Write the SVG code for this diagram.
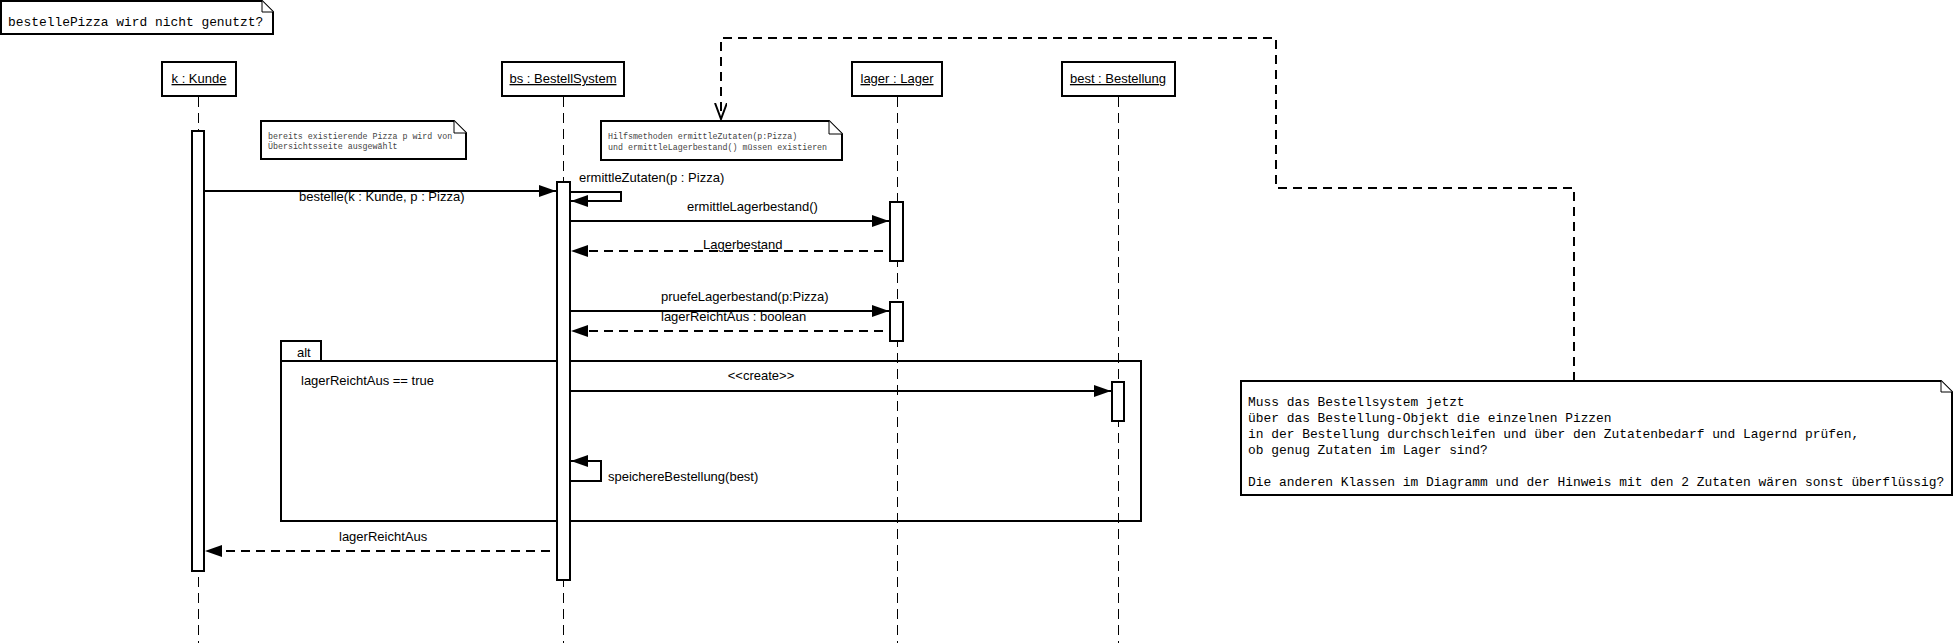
<svg xmlns="http://www.w3.org/2000/svg" width="1954" height="643" viewBox="0 0 1954 643">
<style>
  .box{fill:#fff;stroke:#000;stroke-width:2}
  .life{stroke:#000;stroke-width:1;stroke-dasharray:10 6;fill:none}
  .act{fill:#fff;stroke:#000;stroke-width:2}
  .msg{stroke:#000;stroke-width:2;fill:none}
  .ret{stroke:#000;stroke-width:2;fill:none;stroke-dasharray:9 6}
  .lbl{font-family:"Liberation Sans",Arial,sans-serif;font-size:13px;fill:#000}
  .obj{font-family:"Liberation Sans",Arial,sans-serif;font-size:13px;fill:#000;text-anchor:middle;text-decoration:underline}
  .note{fill:#fff;stroke:#000;stroke-width:2}
  .fold{fill:#fff;stroke:#000;stroke-width:1}
  .mono{font-family:"Liberation Mono","Courier New",monospace;font-size:12.9px;fill:#000}
  .small{font-family:"Liberation Mono","Courier New",monospace;font-size:8.3px;fill:#444}
  .frame{fill:none;stroke:#000;stroke-width:2}
</style>
<defs>
  <marker id="filled" markerUnits="userSpaceOnUse" markerWidth="18" markerHeight="14" refX="17" refY="6" orient="auto">
    <path d="M0,0 L17,6 L0,12 z" fill="#000"/>
  </marker>
  <marker id="open" markerUnits="userSpaceOnUse" markerWidth="18" markerHeight="14" refX="16" refY="6" orient="auto">
    <path d="M0,0 L16,6 L0,12" fill="none" stroke="#000" stroke-width="2"/>
  </marker>
</defs>
<rect width="1954" height="643" fill="#fff"/>

<!-- lifelines -->
<g id="lifelines">
  <line class="life" x1="198.5" y1="97" x2="198.5" y2="643"/>
  <line class="life" x1="563.5" y1="97" x2="563.5" y2="643"/>
  <line class="life" x1="897.5" y1="97" x2="897.5" y2="643"/>
  <line class="life" x1="1118.5" y1="97" x2="1118.5" y2="643"/>
</g>

<!-- alt fragment -->
<g id="alt">
  <rect class="frame" x="281" y="361" width="860" height="160"/>
  <rect class="frame" x="281" y="341" width="40" height="20"/>
  <text class="lbl" x="297" y="357">alt</text>
  <text class="lbl" x="301" y="385">lagerReichtAus == true</text>
</g>

<!-- notes -->
<g id="note-top">
  <path class="note" d="M1,1 H262 L273,12 V34 H1 Z"/>
  <path class="fold" d="M262,1 V12 H273"/>
  <text class="mono" x="8" y="26">bestellePizza wird nicht genutzt?</text>
</g>
<g id="note1">
  <path class="note" d="M261,121 H454 L466,133 V159 H261 Z"/>
  <path class="fold" d="M454,121 V133 H466"/>
  <text class="small" x="268" y="139">bereits existierende Pizza p wird von</text>
  <text class="small" x="268" y="149">Übersichtsseite ausgewählt</text>
</g>
<g id="note2">
  <path class="note" d="M601,121 H829 L842,134 V160 H601 Z"/>
  <path class="fold" d="M829,121 V134 H842"/>
  <text class="small" x="608" y="139">Hilfsmethoden ermittleZutaten(p:Pizza)</text>
  <text class="small" x="608" y="150">und ermittleLagerbestand() müssen existieren</text>
</g>
<g id="note3">
  <path class="note" d="M1241,381 H1941 L1952,392 V495 H1241 Z"/>
  <path class="fold" d="M1941,381 V392 H1952"/>
  <text class="mono" x="1248" y="406">Muss das Bestellsystem jetzt</text>
  <text class="mono" x="1248" y="422">über das Bestellung-Objekt die einzelnen Pizzen</text>
  <text class="mono" x="1248" y="438">in der Bestellung durchschleifen und über den Zutatenbedarf und Lagernd prüfen,</text>
  <text class="mono" x="1248" y="454">ob genug Zutaten im Lager sind?</text>
  <text class="mono" x="1248" y="486">Die anderen Klassen im Diagramm und der Hinweis mit den 2 Zutaten wären sonst überflüssig?</text>
</g>

<!-- objects -->
<g id="kunde">
  <rect class="box" x="162" y="62" width="74" height="34"/>
  <text class="obj" x="199" y="83">k : Kunde</text>
  <rect class="act" x="192" y="131" width="12" height="440"/>
</g>
<g id="bestellsystem">
  <rect class="box" x="502" y="62" width="122" height="34"/>
  <text class="obj" x="563" y="83">bs : BestellSystem</text>
  <rect class="act" x="557" y="182" width="13" height="398"/>
</g>
<g id="lager">
  <rect class="box" x="852" y="62" width="90" height="34"/>
  <text class="obj" x="897" y="83">lager : Lager</text>
  <rect class="act" x="890" y="202" width="13" height="59"/>
  <rect class="act" x="890" y="302" width="13" height="39"/>
</g>
<g id="bestellung">
  <rect class="box" x="1062" y="62" width="113" height="34"/>
  <text class="obj" x="1118" y="83">best : Bestellung</text>
  <rect class="act" x="1112" y="382" width="12" height="39"/>
</g>

<!-- connectors -->
<g id="connectors">
  <line class="msg" x1="205" y1="191" x2="556" y2="191" marker-end="url(#filled)"/>
  <text class="lbl" x="299" y="201">bestelle(k : Kunde, p : Pizza)</text>

  <path class="msg" d="M571,192 H621 V201 H571" marker-end="url(#filled)"/>
  <text class="lbl" x="579" y="182">ermittleZutaten(p : Pizza)</text>

  <line class="msg" x1="571" y1="221" x2="889" y2="221" marker-end="url(#filled)"/>
  <text class="lbl" x="687" y="211">ermittleLagerbestand()</text>

  <line class="ret" x1="883" y1="251" x2="571" y2="251" marker-end="url(#filled)"/>
  <text class="lbl" x="703" y="249">Lagerbestand</text>

  <line class="msg" x1="571" y1="311" x2="889" y2="311" marker-end="url(#filled)"/>
  <text class="lbl" x="661" y="301">pruefeLagerbestand(p:Pizza)</text>

  <line class="ret" x1="883" y1="331" x2="571" y2="331" marker-end="url(#filled)"/>
  <text class="lbl" x="661" y="321">lagerReichtAus : boolean</text>

  <line class="msg" x1="571" y1="391" x2="1111" y2="391" marker-end="url(#filled)"/>
  <text class="lbl" x="761" y="380" text-anchor="middle">&lt;&lt;create&gt;&gt;</text>

  <path class="msg" d="M571,481 H601 V461 H571" marker-end="url(#filled)"/>
  <text class="lbl" x="608" y="481">speichereBestellung(best)</text>

  <line class="ret" x1="550" y1="551" x2="205" y2="551" marker-end="url(#filled)"/>
  <text class="lbl" x="339" y="541">lagerReichtAus</text>

  <path class="ret" d="M1574,381 V188 H1276 V38 H721 V119" marker-end="url(#open)"/>
</g>
</svg>
